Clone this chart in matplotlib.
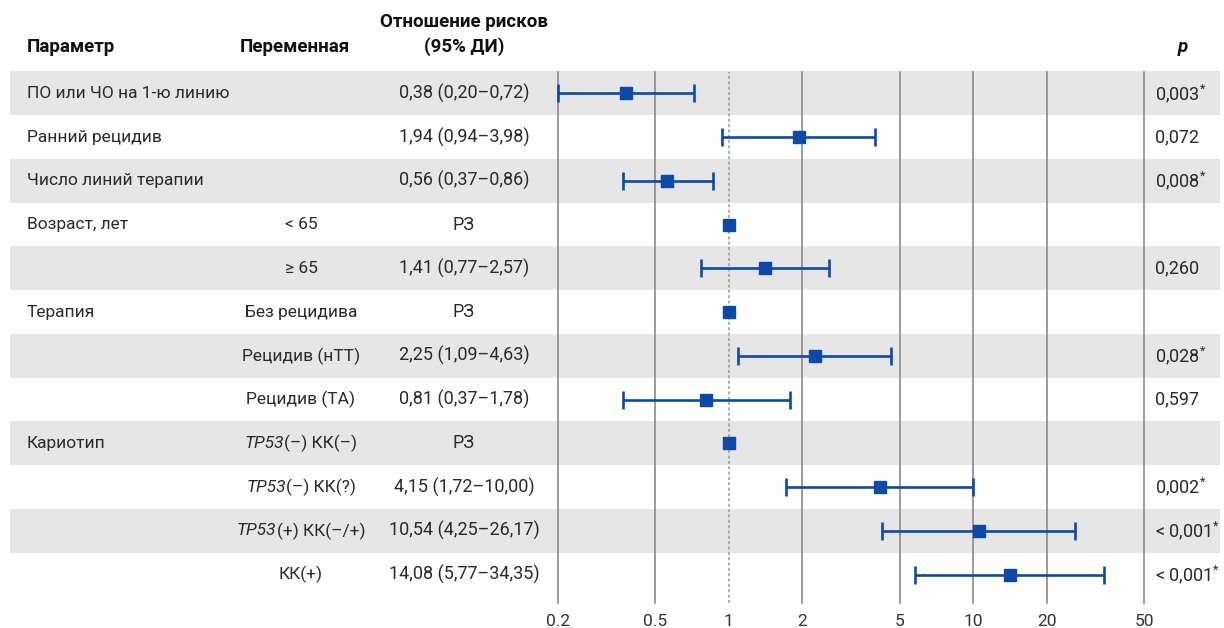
import numpy as np
import matplotlib
matplotlib.use("Agg")
import matplotlib.pyplot as plt
from matplotlib import transforms
from matplotlib.patches import Rectangle

plt.rcParams['font.family'] = ['Roboto', 'DejaVu Sans']
plt.rcParams['mathtext.fontset'] = 'custom'
plt.rcParams['mathtext.rm'] = 'Roboto'
plt.rcParams['mathtext.it'] = 'Roboto:italic'
plt.rcParams['mathtext.bf'] = 'Roboto:bold'

# table data; variable labels are (italic part, regular part)
params = ["ПО или ЧО на 1-ю линию", "Ранний рецидив", "Число линий терапии",
          "Возраст, лет", "", "Терапия", "", "", "Кариотип", "", "", ""]
variables = [("", ""), ("", ""), ("", ""), ("", "< 65"), ("", "≥ 65"),
             ("", "Без рецидива"), ("", "Рецидив (нТТ)"), ("", "Рецидив (ТА)"),
             ("TP53", "(–) КК(–)"), ("TP53", "(–) КК(?)"),
             ("TP53", "(+) КК(–/+)"), ("", "КК(+)")]
hr = [0.38, 1.94, 0.56, 1.0, 1.41, 1.0, 2.25, 0.81, 1.0, 4.15, 10.54, 14.08]
ci_lo = [0.20, 0.94, 0.37, None, 0.77, None, 1.09, 0.37, None, 1.72, 4.25, 5.77]
ci_hi = [0.72, 3.98, 0.86, None, 2.57, None, 4.63, 1.78, None, 10.00, 26.17, 34.35]
p_vals = ["0,003*", "0,072", "0,008*", "", "0,260", "", "0,028*", "0,597", "",
          "0,002*", "< 0,001*", "< 0,001*"]
xticks = [0.2, 0.5, 1, 2, 5, 10, 20, 50]
xticklabels = ["0.2", "0.5", "1", "2", "5", "10", "20", "50"]

W, H = 1224, 628
fig = plt.figure(figsize=(W / 100, H / 100), dpi=100)

# forest plot axes (pixel layout converted to figure fractions)
left, right, top, bottom = 558, 1144, 71.5, 603
ax = fig.add_axes([left / W, 1 - bottom / H, (right - left) / W, (bottom - top) / H])
ax.patch.set_visible(False)
n = len(hr)
row_h = 43.75
ax.set_xscale('log')
ax.set_xlim(0.2, 50)
ax.set_ylim(n - 0.5 + (bottom - (top + n * row_h)) / row_h, -0.5)
for s in ax.spines.values():
    s.set_visible(False)
ax.set_yticks([])
ax.set_xticks(xticks)
ax.set_xticklabels(xticklabels)
ax.xaxis.set_minor_locator(matplotlib.ticker.NullLocator())
ax.tick_params(axis='x', length=0, pad=8, labelsize=12.5, labelcolor='#333333')

txt_color = '#2a2a2a'
blend = transforms.blended_transform_factory(fig.transFigure, ax.transData)

# alternating bands across the whole table
for i in range(0, n, 2):
    ax.add_patch(Rectangle((10 / W, i - 0.5), 1210 / W, 1, transform=blend,
                           facecolor='#e6e6e6', edgecolor='none', zorder=0,
                           clip_on=False))

# grid lines
for xv in xticks:
    if xv == 1:
        ax.axvline(xv, color='#9a9a9a', lw=1.1, ls=(0, (2, 1.5)), zorder=1,
                   clip_on=False)
    else:
        ax.axvline(xv, color='#8a8a8a', lw=1.2, zorder=1, clip_on=False)

blue = '#0d4aa8'
for i in range(n):
    if ci_lo[i] is not None:
        ax.errorbar(hr[i], i, xerr=[[hr[i] - ci_lo[i]], [ci_hi[i] - hr[i]]],
                    fmt='none', ecolor=blue, elinewidth=1.9, capsize=6.3,
                    capthick=1.9, zorder=3, clip_on=False)
    ax.plot(hr[i], i, marker='s', ms=9.3, color=blue, zorder=4, ls='none')


def fmt(v):
    return f"{v:.2f}".replace('.', ',')


fs = 12.5
fs_hr = 13
fs_p = 13
fs_head = 13.5
renderer = fig.canvas.get_renderer()
for i in range(n):
    fig.text(27 / W, i, params[i], transform=blend, ha='left', va='center',
             fontsize=fs, color=txt_color)
    it_part, rm_part = variables[i]
    if it_part:
        # italic gene name followed by regular text, centred as one label
        t1 = fig.text(0, i, it_part, transform=blend, ha='left', va='center',
                      fontsize=fs, fontstyle='italic', color=txt_color)
        t2 = fig.text(0, i, rm_part, transform=blend, ha='left', va='center',
                      fontsize=fs, color=txt_color)
        w1 = t1.get_window_extent(renderer).width
        w2 = t2.get_window_extent(renderer).width
        x0 = 301 - (w1 + w2) / 2
        t1.set_x(x0 / W)
        t2.set_x((x0 + w1) / W)
    elif rm_part:
        fig.text(301 / W, i, rm_part, transform=blend, ha='center',
                 va='center', fontsize=fs, color=txt_color)
    if ci_lo[i] is None:
        hr_txt = "РЗ"
    else:
        hr_txt = f"{fmt(hr[i])} ({fmt(ci_lo[i])}–{fmt(ci_hi[i])})"
    fig.text(464 / W, i, hr_txt, transform=blend, ha='center', va='center',
             fontsize=fs_hr, color=txt_color)
    if p_vals[i]:
        p = p_vals[i]
        if p.endswith('*'):
            p = p[:-1] + r"$^{*}$"
        fig.text(1155 / W, i, p, transform=blend, ha='left', va='center',
                 fontsize=fs_p, color=txt_color)

# column headers
hy = 1 - 47 / H
fig.text(27 / W, hy, "Параметр", ha='left', va='center', fontsize=fs_head,
         fontweight='bold', color='#111111')
fig.text(295 / W, hy, "Переменная", ha='center', va='center', fontsize=fs_head,
         fontweight='bold', color='#111111')
fig.text(464 / W, 1 - 22 / H, "Отношение рисков", ha='center', va='center',
         fontsize=fs_head, fontweight='bold', color='#111111')
fig.text(464 / W, hy, "(95% ДИ)", ha='center', va='center', fontsize=fs_head,
         fontweight='bold', color='#111111')
fig.text(1183 / W, hy, "p", ha='center', va='center', fontsize=fs_head,
         fontweight='bold', fontstyle='italic', color='#111111')

fig.savefig("out.png", dpi=100)
